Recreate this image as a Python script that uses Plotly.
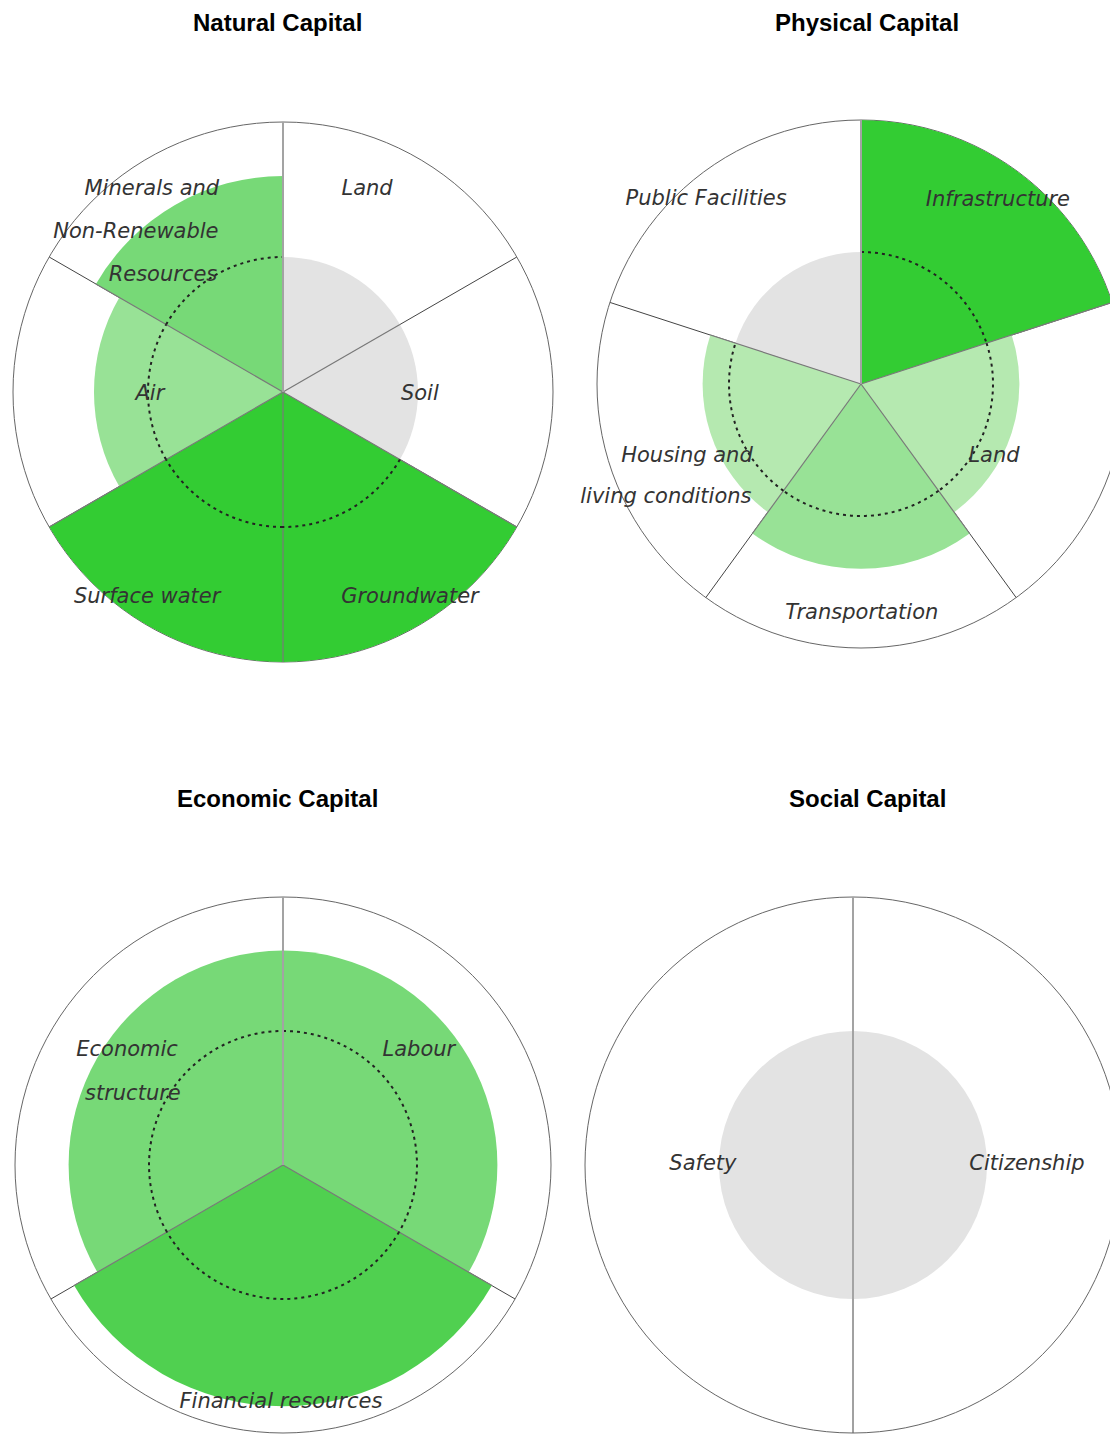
import numpy as np
import plotly.graph_objects as go

# ---------------- data ----------------
titles = ["Natural Capital", "Physical Capital", "Economic Capital", "Social Capital"]

natural_cats = ["Land", "Soil", "Groundwater", "Surface water", "Air",
                "Minerals and Non-Renewable Resources"]
natural_vals = [5, 5, 10, 10, 7, 8]

physical_cats = ["Infrastructure", "Land", "Transportation",
                 "Housing and living conditions", "Public Facilities"]
physical_vals = [10, 6, 7, 6, 5]

economic_cats = ["Labour", "Financial resources", "Economic structure"]
economic_vals = [8, 9, 8]

social_cats = ["Citizenship", "Safety"]
social_vals = [5, 5]

r_max = 10
baseline = 5

score_colors = {5: "#e3e3e3", 6: "#b5e9b0", 7: "#98e296", 8: "#77d977",
                9: "#50d050", 10: "#33cc33"}

# label lines: (text, r, theta)
natural_labels = [("Minerals and", 8.92, 327.0), ("Non-Renewable", 8.02, 317.2),
                  ("Resources", 6.18, 314.0), ("Land", 8.1, 22.6), ("Soil", 5.07, 91.3),
                  ("Groundwater", 8.95, 148.3), ("Surface water", 9.14, 213.4),
                  ("Air", 4.93, 268.7)]
physical_labels = [("Infrastructure", 8.68, 36.7), ("Land", 5.75, 118.8),
                   ("Transportation", 8.71, 179.8), ("Housing and", 7.15, 247.2),
                   ("living conditions", 8.56, 239.7), ("Public Facilities", 9.11, 319.9)]
economic_labels = [("Labour", 6.62, 50.0), ("Financial resources", 8.88, 180.5),
                   ("Economic", 7.21, 306.2), ("structure", 6.18, 295.0)]
social_labels = [("Citizenship", 6.49, 90.0), ("Safety", 5.6, 270.0)]

# ---------------- layout (pixels) ----------------
W, H = 1118, 1435
OFF = 8  # page body margin
# (left, right, top, bottom) of each polar circle on screen
boxes = [(13, 553, 122, 662), (597, 1125, 120, 648),
         (15, 551, 897, 1433), (585, 1121, 897, 1433)]
title_pos = [(277, 22), (867, 22), (277, 798), (867, 798)]

panels = [(natural_cats, natural_vals, natural_labels),
          (physical_cats, physical_vals, physical_labels),
          (economic_cats, economic_vals, economic_labels),
          (social_cats, social_vals, social_labels)]

fig = go.Figure()
layout_polars = {}
for k, (cats, vals, labels) in enumerate(panels):
    pname = "polar" if k == 0 else f"polar{k+1}"
    n = len(cats)
    step = 360.0 / n
    centers = [step * i + step / 2 for i in range(n)]
    bounds = [step * i for i in range(n)]

    fig.add_trace(go.Barpolar(
        r=vals, theta=centers, width=[step] * n,
        marker=dict(color=[score_colors[v] for v in vals], line=dict(width=0)),
        subplot=pname, hovertext=cats, showlegend=False))

    # boundary lines inside coloured sectors
    for i, b in enumerate(bounds):
        ext = max(vals[i], vals[i - 1])
        fig.add_trace(go.Scatterpolar(
            r=[0, ext], theta=[b, b], mode="lines",
            line=dict(color="#7a7a7a", width=1.2),
            subplot=pname, showlegend=False, hoverinfo="skip"))

    # dotted reference arcs over sectors that differ from baseline
    for i, v in enumerate(vals):
        if v == baseline:
            continue
        th = np.linspace(bounds[i], bounds[i] + step, 60)
        fig.add_trace(go.Scatterpolar(
            r=[baseline] * len(th), theta=th, mode="lines",
            line=dict(color="#222222", width=2, dash="3px,4px"),
            subplot=pname, showlegend=False, hoverinfo="skip"))

    # labels
    fig.add_trace(go.Scatterpolar(
        r=[l[1] for l in labels], theta=[l[2] for l in labels],
        text=[l[0] for l in labels], mode="text",
        textfont=dict(family="DejaVu Sans", size=21, color="#333333", style="italic"),
        subplot=pname, showlegend=False, hoverinfo="skip"))

    L, R, T, B = [v - OFF for v in boxes[k]]
    layout_polars[pname] = dict(
        domain=dict(x=[max(L, 0) / W, min(R, W) / W],
                    y=[max(0, 1 - B / H), min(1, 1 - T / H)]),
        bgcolor="white",
        radialaxis=dict(range=[0, r_max], showticklabels=False, ticks="",
                        showgrid=False, showline=True, linecolor="#a3a3a3",
                        linewidth=2, angle=90, layer="above traces"),
        angularaxis=dict(rotation=90, direction="clockwise",
                         tickmode="array", tickvals=bounds,
                         showticklabels=False, ticks="",
                         showgrid=True, gridcolor="#444444", gridwidth=1.3,
                         showline=True, linecolor="#666666", linewidth=1,
                         layer="below traces"),
    )

annotations = []
for (tx, ty), t in zip(title_pos, titles):
    annotations.append(dict(
        text=t, x=(tx - OFF) / W, y=1 - (ty - OFF) / H, xref="paper", yref="paper",
        xanchor="center", yanchor="middle", showarrow=False,
        font=dict(family="Liberation Sans, Arial", size=24, color="#000000",
                  weight="bold")))

fig.update_layout(width=W, height=H, margin=dict(l=0, r=0, t=0, b=0),
                  paper_bgcolor="white", plot_bgcolor="white",
                  annotations=annotations, barmode="overlay", **layout_polars)

fig.write_html("out.html")
